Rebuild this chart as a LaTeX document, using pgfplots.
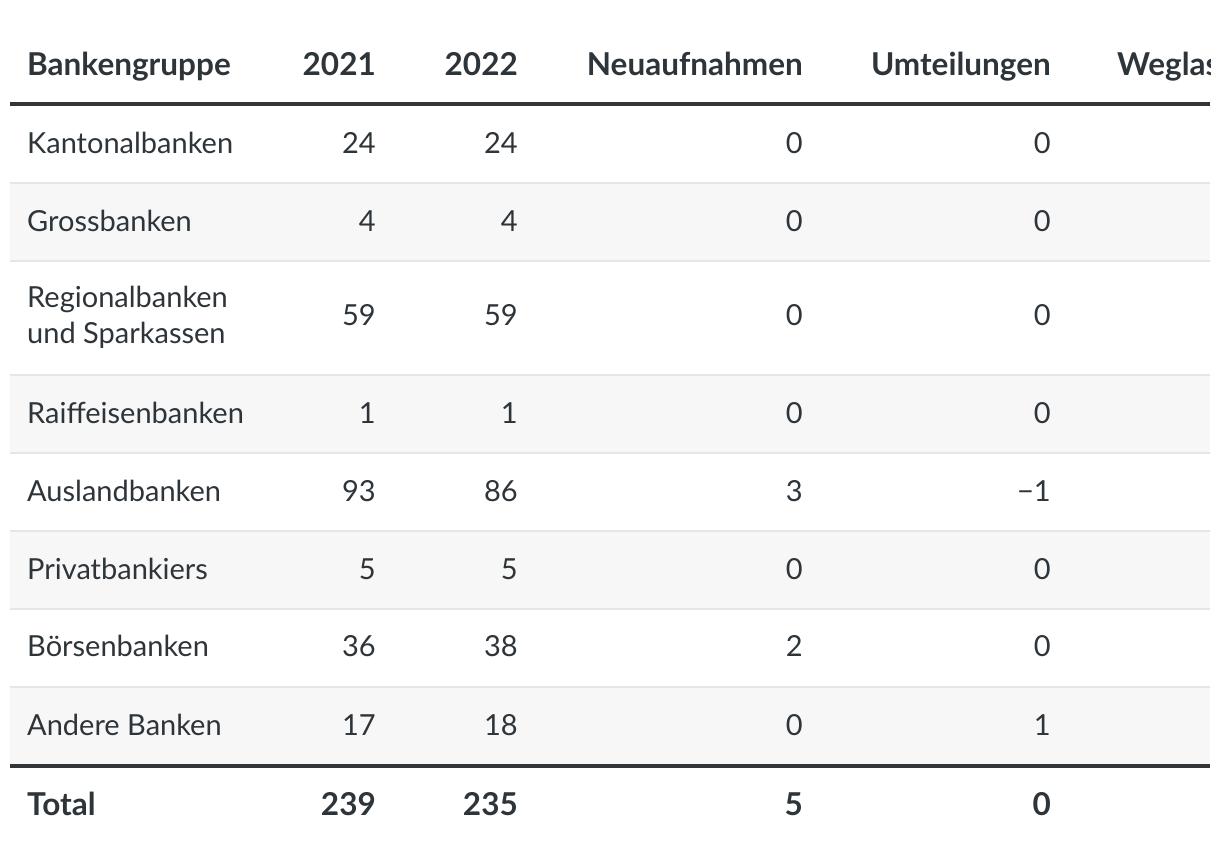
\documentclass[border=0pt]{standalone}
\usepackage{pgfplots}
\pgfplotsset{compat=1.18}
\usepackage{fontspec}
\setmainfont{Lato}

\definecolor{txt}{HTML}{2E353A}
\definecolor{rule}{HTML}{333638}
\definecolor{sep}{HTML}{E6E6E6}
\definecolor{band}{HTML}{F7F7F7}

\newcommand{\body}{\fontsize{29}{36}\selectfont}
\newcommand{\head}{\fontsize{31.5}{36}\selectfont\bfseries}

\begin{document}
\begin{tikzpicture}
\begin{axis}[
    width=1200pt, height=854pt, scale only axis,
    xmin=10, xmax=1210, ymin=0, ymax=854, y dir=reverse,
    hide axis, clip=true, clip marker paths=true,
    every axis plot/.append style={mark=none},
    cell/.style={only marks, nodes near coords, point meta=explicit symbolic,
        nodes near coords style={inner sep=0pt, text=txt, align=left, anchor=#1}},
]
% grey bands, rows 2, 4, 6, 8
\addplot[fill=band, draw=none] coordinates {(10,183) (1210,183) (1210,261) (10,261)};
\addplot[fill=band, draw=none] coordinates {(10,375) (1210,375) (1210,453) (10,453)};
\addplot[fill=band, draw=none] coordinates {(10,531) (1210,531) (1210,609) (10,609)};
\addplot[fill=band, draw=none] coordinates {(10,687) (1210,687) (1210,766) (10,766)};

% thin row separators
\pgfplotsinvokeforeach{183,261,375,453,531,609,687}{
  \addplot[draw=sep, line width=2pt] coordinates {(10,#1) (1210,#1)};
}
% heavy rules
\addplot[draw=rule, line width=4.5pt] coordinates {(10,104) (1210,104)};
\addplot[draw=rule, line width=4pt] coordinates {(10,766) (1210,766)};

% header
\addplot[cell=base west, nodes near coords style={font=\head}] coordinates {
  (27,75) [Bankengruppe]
  (1117,75) [Weglassungen]
};
\addplot[cell=base east, nodes near coords style={font=\head}] coordinates {
  (376,75) [2021]
  (518,75) [2022]
  (803,75) [Neuaufnahmen]
  (1051,75) [Umteilungen]
};

% group names (a two-line cell sits on its last baseline)
\addplot[cell=base west, nodes near coords style={font=\body}] coordinates {
  (27,153) [Kantonalbanken]
  (27,231) [Grossbanken]
  (27,343) [{Regionalbanken\\und Sparkassen}]
  (27,423) [Raiffeisenbanken]
  (27,501) [Auslandbanken]
  (27,579) [Privatbankiers]
  (27,656) [Börsenbanken]
  (27,735) [Andere Banken]
};

% 2021
\addplot[cell=base east, nodes near coords style={font=\body}] coordinates {
  (376,153) [24] (376,231) [4] (376,325) [59] (376,423) [1]
  (376,501) [93] (376,579) [5] (376,656) [36] (376,735) [17]
};
% 2022
\addplot[cell=base east, nodes near coords style={font=\body}] coordinates {
  (518,153) [24] (518,231) [4] (518,325) [59] (518,423) [1]
  (518,501) [86] (518,579) [5] (518,656) [38] (518,735) [18]
};
% Neuaufnahmen
\addplot[cell=base east, nodes near coords style={font=\body}] coordinates {
  (803,153) [0] (803,231) [0] (803,325) [0] (803,423) [0]
  (803,501) [3] (803,579) [0] (803,656) [2] (803,735) [0]
};
% Umteilungen
\addplot[cell=base east, nodes near coords style={font=\body}] coordinates {
  (1051,153) [0] (1051,231) [0] (1051,325) [0] (1051,423) [0]
  (1051,501) [−1] (1051,579) [0] (1051,656) [0] (1051,735) [1]
};

% total row
\addplot[cell=base west, nodes near coords style={font=\head}] coordinates {
  (27,815) [Total]
};
\addplot[cell=base east, nodes near coords style={font=\head}] coordinates {
  (376,815) [239] (518,815) [235] (803,815) [5] (1051,815) [0]
};
\end{axis}
\pgfresetboundingbox
\path[use as bounding box] ([xshift=-10pt]current axis.south west) rectangle ([xshift=10pt]current axis.north east);
\end{tikzpicture}
\end{document}
